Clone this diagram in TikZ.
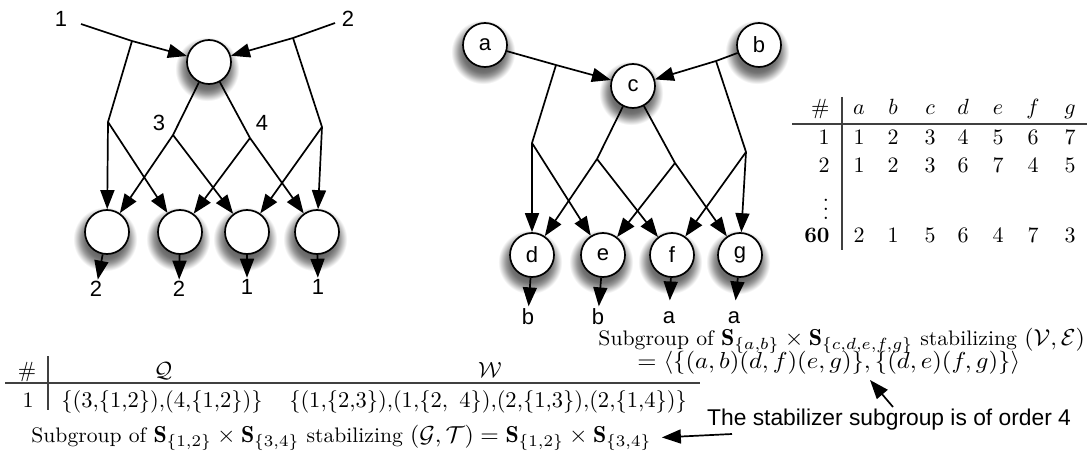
\RequirePackage{fix-cm}
\documentclass[tikz,border=0pt]{standalone}
\usepackage{fontspec}
\setsansfont{Liberation Sans}
\usetikzlibrary{arrows.meta,backgrounds}
\pgfdeclareradialshading{nodeshadow}{\pgfpoint{0bp}{0bp}}{%
  color(0bp)=(black!60); color(12bp)=(black!60); color(15bp)=(black!55);
  color(18bp)=(black!40); color(21bp)=(black!18); color(23.5bp)=(white);
  color(50bp)=(white)}
\newcommand\mth[1]{{\fontsize{11}{13}\selectfont$#1$}}
\tikzset{
  vtx/.style={circle, draw, line width=1.7pt, fill=white, minimum size=44pt, inner sep=0pt,
    font=\sffamily\fontsize{22}{26}\selectfont},
  shd/.style={shading=nodeshadow},
  lab/.style={inner sep=1.5pt, font=\sffamily\fontsize{22}{26}\selectfont},
  ln/.style={line width=1.7pt},
  arr/.style={line width=1.7pt, -{Triangle[length=19pt,width=14pt]}},
  mbase/.style={inner sep=0pt, font=\fontsize{10}{12}\selectfont, transform shape},
  mtxt/.style={mbase, scale=2.1},
  mtab/.style={mbase, scale=2.2},
  mrow/.style={mbase, scale=2.25},
  trule/.style={line width=1.1pt, black!75},
}
\begin{document}
\begin{tikzpicture}[x=1pt,y=-1pt]
\useasboundingbox (0,0) rectangle (1091,457);

% ---------------- left diagram ----------------
\node[vtx] (T) at (209,62) {};
\node[vtx] (L1) at (107,232) {};
\node[vtx] (L2) at (180,232) {};
\node[vtx] (L3) at (247,232) {};
\node[vtx] (L4) at (317,232) {};

\node[lab] (in1) at (61,19) {1};
\node[lab] (in2) at (348,19) {2};
\node[lab] (n3) at (159,123) {3};
\node[lab] (n4) at (262,123) {4};
\node[lab] (o1) at (96,289) {2};
\node[lab] (o2) at (179,289) {2};
\node[lab] (o3) at (247,287) {1};
\node[lab] (o4) at (318,287) {1};

\coordinate (s1) at (81,24);
\coordinate (p1) at (132,41);
\coordinate (q1) at (108,122);
\coordinate (s2) at (335,23);
\coordinate (p2) at (293,38);
\coordinate (q2) at (322,127);
\coordinate (r1) at (173,135);
\coordinate (r2) at (250,138);

\draw[arr] (s1) -- (p1) -- (T);
\draw[arr] (s2) -- (p2) -- (T);
\draw[ln] (p1) -- (q1);
\draw[ln] (p2) -- (q2);
\draw[arr] (q1) -- (L1);
\draw[arr] (q1) -- (L2);
\draw[arr] (q2) -- (L4);
\draw[arr] (q2) -- (L3);
\draw[ln] (T) -- (r1);
\draw[ln] (T) -- (r2);
\draw[arr] (r1) -- (L1);
\draw[arr] (r1) -- (L3);
\draw[arr] (r2) -- (L4);
\draw[arr] (r2) -- (L2);
\draw[arr] (L1) -- (o1);
\draw[arr] (L2) -- (o2);
\draw[arr] (L3) -- (o3);
\draw[arr] (L4) -- (o4);

% ---------------- right diagram ----------------
\node[vtx] (a) at (485,45) {a};
\node[vtx] (b) at (759,45) {b};
\node[vtx] (c) at (633,86) {c};
\node[vtx] (d) at (532,255) {d};
\node[vtx] (e) at (603,255) {e};
\node[vtx] (f) at (672,255) {f};
\node[vtx] (g) at (740,255) {g};

\node[lab, anchor=base] (ob1) at (528,324) {b};
\node[lab, anchor=base] (ob2) at (598,324) {b};
\node[lab, anchor=base] (oa1) at (669,323) {a};
\node[lab, anchor=base] (oa2) at (734,323) {a};

\coordinate (qa) at (556,65);
\coordinate (ra) at (532,143);
\coordinate (qb) at (716,61);
\coordinate (rb) at (746,152);
\coordinate (sc) at (597,159);
\coordinate (tc) at (675,163);

\draw[arr] (a) -- (qa) -- (c);
\draw[arr] (b) -- (qb) -- (c);
\draw[ln] (qa) -- (ra);
\draw[ln] (qb) -- (rb);
\draw[arr] (ra) -- (d);
\draw[arr] (ra) -- (e);
\draw[arr] (rb) -- (g);
\draw[arr] (rb) -- (f);
\draw[ln] (c) -- (sc);
\draw[ln] (c) -- (tc);
\draw[arr] (sc) -- (d);
\draw[arr] (sc) -- (f);
\draw[arr] (tc) -- (g);
\draw[arr] (tc) -- (e);
\draw[arr] (d) -- (ob1);
\draw[arr] (e) -- (ob2);
\draw[arr, shorten >=9pt] (f) -- (oa1);
\draw[arr, shorten >=9pt] (g) -- (oa2);

% ---------------- shadows of the circles ----------------
\begin{scope}[on background layer]
  \foreach \n in {T,L1,L2,L3,L4,a,b,c,d,e,f,g}
    \shade[shd] ([xshift=-2pt,yshift=-7pt]\n.center) circle (34pt);
\end{scope}

% ---------------- right table ----------------
\draw[trule] (792,124) -- (1087,124);
\draw[trule] (842,97) -- (842,250);
\node[mtab, anchor=base east] (th) at (830,115) {\#};
\foreach \x/\t [count=\i] in {859/a,893/b,930/c,963/d,998/e,1033/f,1070/g}
  \node[mtab, anchor=base] (th\i) at (\x,115) {$\t$};
\node[mtab, anchor=base east] (tr1) at (830,145) {1};
\foreach \x/\t [count=\i] in {859/1,893/2,930/3,963/4,998/5,1033/6,1070/7}
  \node[mtab, anchor=base] (ta\i) at (\x,145) {\t};
\node[mtab, anchor=base east] (tr2) at (830,172) {2};
\foreach \x/\t [count=\i] in {859/1,893/2,930/3,963/6,998/7,1033/4,1070/5}
  \node[mtab, anchor=base] (tb\i) at (\x,172) {\t};
\node[mtab] (tdots) at (826,203) {$\vdots$};
\node[mtab, anchor=base east] (tr3) at (830,242) {\textbf{60}};
\foreach \x/\t [count=\i] in {859/2,893/1,930/5,963/6,998/4,1033/7,1070/3}
  \node[mtab, anchor=base] (tc\i) at (\x,242) {\t};

% ---------------- right statements ----------------
\node[mtxt, xscale=1.035, anchor=base west] (sv) at (598,345)
  {Subgroup of \mth{\mathbf{S}_{\{a,b\}}\times\mathbf{S}_{\{c,d,e,f,g\}}} stabilizing \mth{(\mathcal{V},\mathcal{E})}};
\node[mtxt, xscale=1.07, anchor=base west] (gen) at (637,368)
  {\mth{=\langle\{(a,b)(d,f)(e,g)\},\{(d,e)(f,g)\}\rangle}};

% ---------------- left table ----------------
\draw[trule] (5,383) -- (700,383);
\draw[trule] (48,356) -- (48,410);
\node[mtab, anchor=base] (lh0) at (27,377) {\#};
\node[mtab, anchor=base] (lhq) at (163,377) {$\mathcal{Q}$};
\node[mtab, anchor=base] (lhw) at (490,377) {$\mathcal{W}$};
\node[mtab, anchor=base] (lr0) at (28,407) {1};
\node[mrow, anchor=base] (lrq) at (162,407)
  {$\{(3{,}\{1{,}2\}){,}(4{,}\{1{,}2\})\}$};
\node[mrow, anchor=base] (lrw) at (488,407)
  {$\{(1{,}\{2{,}3\}){,}(1{,}\{2,\ 4\}){,}(2{,}\{1{,}3\}){,}(2{,}\{1{,}4\})\}$};

\node[mtxt, xscale=1.03, anchor=base west] (sg) at (31,442)
  {Subgroup of \mth{\mathbf{S}_{\{1,2\}}\times\mathbf{S}_{\{3,4\}}} stabilizing \mth{(\mathcal{G},\mathcal{T})=\mathbf{S}_{\{1,2\}}\times\mathbf{S}_{\{3,4\}}}};

% ---------------- annotation ----------------
\node[lab, inner sep=0pt, anchor=base west, font=\sffamily\fontsize{22.8}{27}\selectfont] (note) at (707,425) {The stabilizer subgroup is of order 4};
\coordinate (n1) at (893,407);
\coordinate (t1) at (870,380);
\coordinate (n2) at (732,434);
\draw[arr] (n1) -- (t1);
\draw[arr] (n2) -- ([xshift=10pt]sg.east);
\end{tikzpicture}
\end{document}
